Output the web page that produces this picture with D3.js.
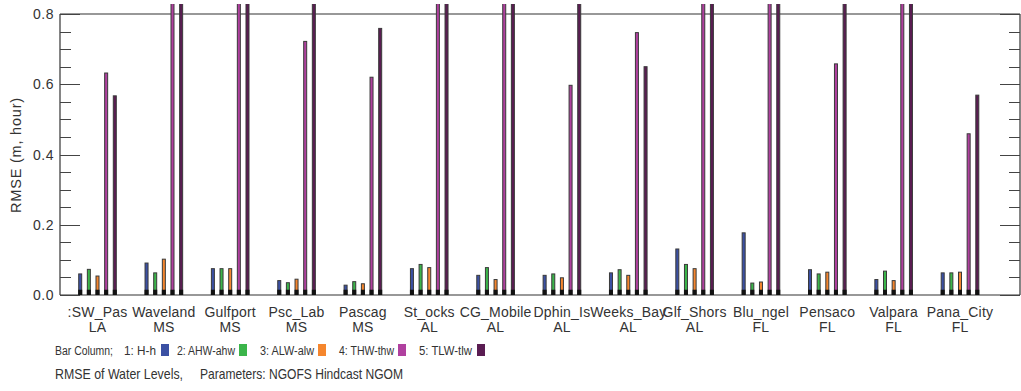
<!DOCTYPE html>
<html>
<head>
<meta charset="utf-8">
<script src="https://cdn.jsdelivr.net/npm/d3@7"></script>
<style>
  html, body { margin: 0; padding: 0; background: #fff; }
  svg { display: block; }
  text { font-family: "Liberation Sans", Arial, sans-serif; fill: #333; }
</style>
</head>
<body>
<svg id="chart" width="1021" height="391"></svg>
<script>
// ---- data ----
const stations = [":SW_Pas", "Waveland", "Gulfport", "Psc_Lab", "Pascag", "St_ocks", "CG_Mobile",
                  "Dphin_Is", "Weeks_Bay", "Glf_Shors", "Blu_ngel", "Pensaco", "Valpara", "Pana_City"];
const states = ["LA", "MS", "MS", "MS", "MS", "AL", "AL", "AL", "AL", "AL", "FL", "FL", "FL", "FL"];
const seriesNames = ["1: H-h", "2: AHW-ahw", "3: ALW-alw", "4: THW-thw", "5: TLW-tlw"];
const seriesColors = ["#3b50a3", "#3bb54a", "#f5862e", "#b0409f", "#5a1d52"];
const hh  = [0.060, 0.091, 0.075, 0.041, 0.028, 0.075, 0.056, 0.056, 0.063, 0.131, 0.177, 0.072, 0.044, 0.063];
const ahw = [0.073, 0.063, 0.075, 0.035, 0.038, 0.087, 0.078, 0.060, 0.072, 0.087, 0.034, 0.060, 0.068, 0.063];
const alw = [0.054, 0.102, 0.075, 0.045, 0.032, 0.078, 0.044, 0.049, 0.056, 0.075, 0.037, 0.065, 0.041, 0.065];
const thw = [0.632, 1.200, 1.200, 0.722, 0.620, 1.200, 1.200, 0.597, 0.747, 1.200, 1.200, 0.658, 1.200, 0.459];
const tlw = [0.567, 1.200, 1.200, 1.200, 0.759, 1.200, 1.200, 1.200, 0.650, 1.200, 1.200, 1.200, 1.200, 0.569];
const series = [hh, ahw, alw, thw, tlw];
const yTicks = [0.0, 0.2, 0.4, 0.6, 0.8];
const yTitle = "RMSE (m, hour)";
const legendLead = "Bar Column;";
const titleParts = ["RMSE of Water Levels,", "Parameters: NGOFS Hindcast NGOM"];

// ---- layout ----
const L = 60, R = 1020, T = 14, B = 295;
const svg = d3.select("#chart");
const y = d3.scaleLinear().domain([0, 0.8]).range([B, T]);
const x = d3.scaleLinear().domain([0, stations.length - 1]).range([97.5, 960]);
const off = d3.scaleLinear().domain([0, 4]).range([-17.3, 17.3]);

svg.append("defs").append("clipPath").attr("id", "clip")
  .append("rect").attr("x", L).attr("y", 4).attr("width", R - L).attr("height", B - 4);

// frame
[[L, T, R, T], [L, B, R, B], [L, T, L, B], [R, T, R, B]].forEach(c => {
  svg.append("line").attr("x1", c[0]).attr("y1", c[1]).attr("x2", c[2]).attr("y2", c[3])
    .attr("stroke", "#333").attr("stroke-width", 1.2);
});

// ticks
const minor = d3.range(0, 0.8001, 0.05);
minor.forEach(v => {
  const isMajor = Math.abs(Math.round(v / 0.2) * 0.2 - v) < 1e-6;
  const len = isMajor ? 20 : 11;
  const yy = Math.round(y(v)) + 0.5;
  svg.append("line").attr("x1", L).attr("x2", L + len).attr("y1", yy).attr("y2", yy).attr("stroke", "#444");
  svg.append("line").attr("x1", R - len).attr("x2", R).attr("y1", yy).attr("y2", yy).attr("stroke", "#444");
});

// y tick labels
svg.selectAll(".ytl").data(yTicks).enter().append("text")
  .attr("x", 54).attr("y", d => y(d) + 5)
  .attr("text-anchor", "end").attr("font-size", 14).attr("letter-spacing", 0.5)
  .text(d => d.toFixed(1));

// y title
svg.append("text").attr("transform", "translate(21,155) rotate(-90)")
  .attr("text-anchor", "middle").attr("font-size", 14.5).attr("letter-spacing", 0.8)
  .text(yTitle);

// bars
const gBars = svg.append("g").attr("clip-path", "url(#clip)");
series.forEach((vals, s) => {
  vals.forEach((v, i) => {
    const cx = x(i) + off(s);
    gBars.append("rect")
      .attr("x", cx - 1.5).attr("width", 3)
      .attr("y", y(v)).attr("height", B - y(v))
      .attr("fill", seriesColors[s]).attr("stroke", "#3a3a3a").attr("stroke-width", 1);
    gBars.append("rect")
      .attr("x", cx - 2).attr("width", 4)
      .attr("y", y(0.015)).attr("height", B - y(0.015))
      .attr("fill", "#111");
  });
});

// x labels
stations.forEach((s, i) => {
  svg.append("text").attr("x", x(i)).attr("y", 317).attr("text-anchor", "middle")
    .attr("font-size", 14).attr("letter-spacing", 0.2).text(s);
  svg.append("text").attr("x", x(i)).attr("y", 332).attr("text-anchor", "middle")
    .attr("font-size", 14).attr("letter-spacing", 0.2).text(states[i]);
});

// legend
function fitText(txt, xx, yy, w, fs) {
  svg.append("text").attr("x", xx).attr("y", yy).attr("font-size", fs)
    .attr("textLength", w).attr("lengthAdjust", "spacingAndGlyphs").text(txt);
}
fitText(legendLead, 55, 355, 58, 12.5);
const legTextX = [124, 177, 260, 339, 419];
const legTextW = [32, 58, 54, 55, 53];
const legSwX = [161, 239, 318, 398, 477];
seriesNames.forEach((n, s) => {
  fitText(n, legTextX[s], 355, legTextW[s], 12.5);
  svg.append("rect").attr("x", legSwX[s]).attr("y", 344).attr("width", 8).attr("height", 12)
    .attr("fill", seriesColors[s]);
});

// title
fitText(titleParts[0], 55, 379, 128, 15);
fitText(titleParts[1], 200, 379, 203, 15);
</script>
</body>
</html>
